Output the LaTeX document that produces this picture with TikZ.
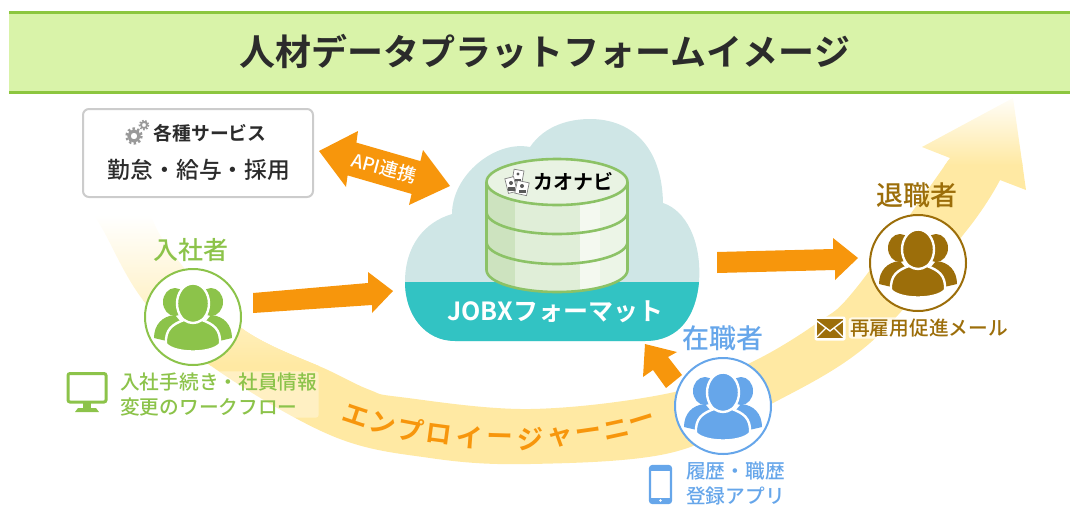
\documentclass[tikz,border=0pt]{standalone}
\usepackage{fontspec}
\setmainfont{Noto Sans CJK JP}
\newfontfamily\jpm{Noto Sans CJK JP Medium}
\newfontfamily\jpb{Noto Sans CJK JP Bold}
\definecolor{barfill}{HTML}{D9F3A9}
\definecolor{barline}{HTML}{8CC63F}
\definecolor{bandc}{HTML}{FFE9A3}
\definecolor{orangec}{HTML}{F7960C}
\definecolor{greenc}{HTML}{8CC34A}
\definecolor{bluec}{HTML}{66A6EA}
\definecolor{brownc}{HTML}{9C6E0A}
\definecolor{cloudc}{HTML}{CFE6E6}
\definecolor{tealc}{HTML}{32C3C3}
\definecolor{cylline}{HTML}{8CC266}
\definecolor{darkc}{HTML}{2B2B2B}
\definecolor{cylbase}{HTML}{E0EED8}
\definecolor{cylleft}{HTML}{CDE3BF}
\definecolor{cylhi}{HTML}{F4F9F0}
\definecolor{cylright}{HTML}{ECF5E7}
\definecolor{cyltop}{HTML}{E9F3E3}
\tikzset{
  lbl/.style={inner sep=0pt,font=\jpm\fontsize{#1}{#1}\selectfont},
  blbl/.style={inner sep=0pt,font=\jpb\fontsize{#1}{#1}\selectfont},
  halo/.style={fill=white,fill opacity=.35,text opacity=1,rounded corners=3,inner sep=1.5pt,align=left,font=\jpm\fontsize{19.7}{25}\selectfont},
  bigarrow/.style={fill=orangec,draw=none},
  photo/.style={draw=gray,line width=.7,fill=white,minimum width=#1,inner sep=0pt},
  cylstroke/.style={cylline,line width=2.6}
}
\newcommand\peopleicon[2]{%
 \begin{scope}[shift={(#1)}]
  \draw[#2,fill=white,line width=2] (0,0) circle (48);
  \fill[#2] (-18,-15) ellipse (12 and 14);
  \fill[#2] (18,-15) ellipse (12 and 14);
  \fill[#2] (-39,21) .. controls (-39,8) and (-31,-1) .. (-18,-2) -- (-8,10) -- (-22,25) -- cycle;
  \fill[#2] (39,21) .. controls (39,8) and (31,-1) .. (18,-2) -- (8,10) -- (22,25) -- cycle;
  \draw[white,fill=#2,line width=2.4] (0,-13.5) ellipse (16 and 20);
  \draw[white,fill=#2,line width=2.4] (-27,27) .. controls (-28,12) and (-20,7) .. (-9,3)
     .. controls (-3,7) and (3,7) .. (9,3) .. controls (20,7) and (28,12) .. (27,27)
     .. controls (18,37) and (-18,37) .. (-27,27) -- cycle;
 \end{scope}}
\begin{document}
\begin{tikzpicture}[x=1pt,y=-1pt]
\useasboundingbox (0,0) rectangle (1070,523);
% header
\fill[barfill] (9,11) rectangle (1070,93);
\fill[barline] (9,10.5) rectangle (1070,13.5);
\fill[barline] (9,90.5) rectangle (1070,93.5);
\node[blbl=36,text=darkc] (title) at (545,52) {人材データプラットフォームイメージ};
% journey band
\begin{scope}
 \clip plot[smooth,tension=.6] coordinates {(92,212) (103,230) (143,300) (207,363) (330,435) (430,458) (530,464) (670,453) (760,410) (870,343) (967,230) (1000,180)}
   -- (1026,190) -- (1013,98) -- (922,147) -- (950,158)
   -- plot[smooth,tension=.6] coordinates {(950,158) (857,287) (817,323) (750,363) (670,393) (530,409) (400,397) (370,390) (330,371) (240,327) (170,250) (150,212)} -- cycle;
 \fill[bandc] (60,300) rectangle (1060,480);
 \fill[bandc] (800,160) rectangle (1060,300);
 \shade[top color=white,bottom color=bandc] (60,215) rectangle (400,365);
 \shade[top color=white,bottom color=bandc] (800,92) rectangle (1060,165);
\end{scope}
\foreach \c [count=\i from 0] in {エ,ン,プ,ロ,イ,ー,ジ,ャ,ー,ニ,ー}{
 \path (356,416) .. controls (440,444) and (560,448) .. (642,423)
   node[pos=\i/10,sloped,blbl=26.5,text=orangec] (j\i) {\c};
}
% service box
\node[draw=black!20,line width=2,fill=white,rounded corners=6,minimum width=230,minimum height=88,inner sep=0pt] (svc) at (198,153) {};
\draw[gray!80,line width=2.4,dash pattern=on 2.4 off 2.4] (134,136) circle (7.5);
\draw[gray!80,line width=3.2] (134,136) circle (5);
\draw[gray!80,line width=1.6,dash pattern=on 1.6 off 1.6] (144,125) circle (4.6);
\draw[gray!80,line width=1.8] (144,125) circle (3);
\node[blbl=18.8,text=darkc] (svc1) at (210,133) {各種サービス};
\node[lbl=22.8,text=darkc] (svc2) at (199,170) {勤怠・給与・採用};
% cloud
\def\cloudpath{(405,282) .. controls (405,245) and (425,222) .. (452,214)
  .. controls (452,175) and (495,140) .. (530,147)
  .. controls (545,125) and (570,119) .. (590,119)
  .. controls (630,119) and (662,145) .. (663,203)
  .. controls (685,210) and (702,240) .. (699,282)
  .. controls (696,315) and (680,341) .. (645,341)
  -- (455,341) .. controls (425,341) and (405,315) .. (405,282) -- cycle}
\fill[cloudc] \cloudpath;
\begin{scope}
 \clip (395,282) rectangle (710,350);
 \fill[tealc] \cloudpath;
\end{scope}
\node[blbl=25,text=white] (jobx) at (555,312) {JOBXフォーマット};
% cylinder
\begin{scope}
 \clip (486.5,182) -- (486.5,270) arc[start angle=180,end angle=0,x radius=70.5,y radius=22] -- (627.5,182) -- cycle;
 \fill[cylbase] (480,170) rectangle (635,300);
 \fill[cylleft] (480,170) rectangle (515,300);
 \fill[cylhi] (580,170) rectangle (600,300);
 \fill[cylright] (600,170) rectangle (635,300);
\end{scope}
\draw[cylstroke] (486.5,182) -- (486.5,270) arc[start angle=180,end angle=0,x radius=70.5,y radius=22] -- (627.5,182);
\draw[cylstroke] (486.5,212) arc[start angle=180,end angle=0,x radius=70.5,y radius=22];
\draw[cylstroke] (486.5,242) arc[start angle=180,end angle=0,x radius=70.5,y radius=22];
\draw[cylstroke,fill=cyltop] (557,182) ellipse (70.5 and 23);
% logo
\node[photo=10,minimum height=12,rotate=-10] (ph1) at (518,176) {};
\node[photo=9,minimum height=15,rotate=14] (ph2) at (511,185) {};
\node[photo=12,minimum height=13,rotate=-12] (ph3) at (522,188) {};
\fill[black!65] (518,174) circle (1.6) (511,183) circle (2) (522,186) circle (2);
\fill[black!65] (515,179) rectangle (521,181);
\fill[black!65] (507.5,187) rectangle (514.5,191);
\fill[black!65] (518.5,190) rectangle (525.5,193);
\node[blbl=20,text=black] (kao) at (573,182) {カオナビ};
% orange arrows
\fill[bigarrow] (319,151) -- (358,131) -- (356.4,142.6) -- (420.4,161.1) -- (423,150) -- (450,186) -- (409,205) -- (411.6,193.9) -- (347.6,175.4) -- (346,187) -- cycle;
\node[lbl=18.5,text=white,rotate=-15] (api) at (384,168) {API連携};
\fill[bigarrow] (253,293) -- (368,283) -- (368,272) -- (393,291) -- (372,313) -- (372,305) -- (253,313) -- cycle;
\fill[bigarrow] (717,252) -- (833,249) -- (833,238) -- (858,258) -- (835,280) -- (835,270) -- (717,273) -- cycle;
\fill[bigarrow] (645,344) -- (677,352) -- (668,357) -- (682,375) -- (666,388) -- (653,370) -- (643,377) -- cycle;
% people
\peopleicon{193,317}{greenc}
\peopleicon{723,406}{bluec}
\peopleicon{918,263}{brownc}
\node[lbl=25,text=greenc] (nyu) at (191,250) {入社者};
\node[lbl=27,text=bluec] (zai) at (723,338) {在職者};
\node[lbl=27,text=brownc] (tai) at (917,195) {退職者};
% green label
\draw[greenc,line width=3,rounded corners=2,fill=white] (68,373.5) rectangle (106,402);
\fill[greenc] (83,403) rectangle (91,408);
\fill[greenc] (75,412) -- (78,408) -- (96,408) -- (99,412) -- cycle;
\node[halo,text=greenc,anchor=west] (nyutxt) at (118.5,394.5) {入社手続き・社員情報\\変更のワークフロー};
% blue label
\draw[bluec,line width=2.2,fill=white,rounded corners=2.5] (650,466) rectangle (671,503);
\fill[bluec] (650,466) rectangle (671,471);
\fill[bluec] (650,498) rectangle (671,503);
\fill[white] (660.5,500.5) circle (1.3);
\node[halo,fill opacity=0,text=bluec,anchor=west] (zaitxt) at (684.5,484) {履歴・職歴\\登録アプリ};
% brown label
\node[fill=white,rounded corners=2,minimum width=31,minimum height=24,inner sep=0pt] (mailbg) at (830,328.5) {};
\fill[brownc] (817,319) rectangle (843,338);
\draw[white,line width=1.4] (817,321) -- (830,331) -- (843,321);
\draw[white,line width=1.1] (817,337) -- (826,328) (843,337) -- (834,328);
\node[halo,fill opacity=.75,text=brownc,anchor=west] (taitxt) at (848.5,328) {再雇用促進メール};
\end{tikzpicture}
\end{document}
